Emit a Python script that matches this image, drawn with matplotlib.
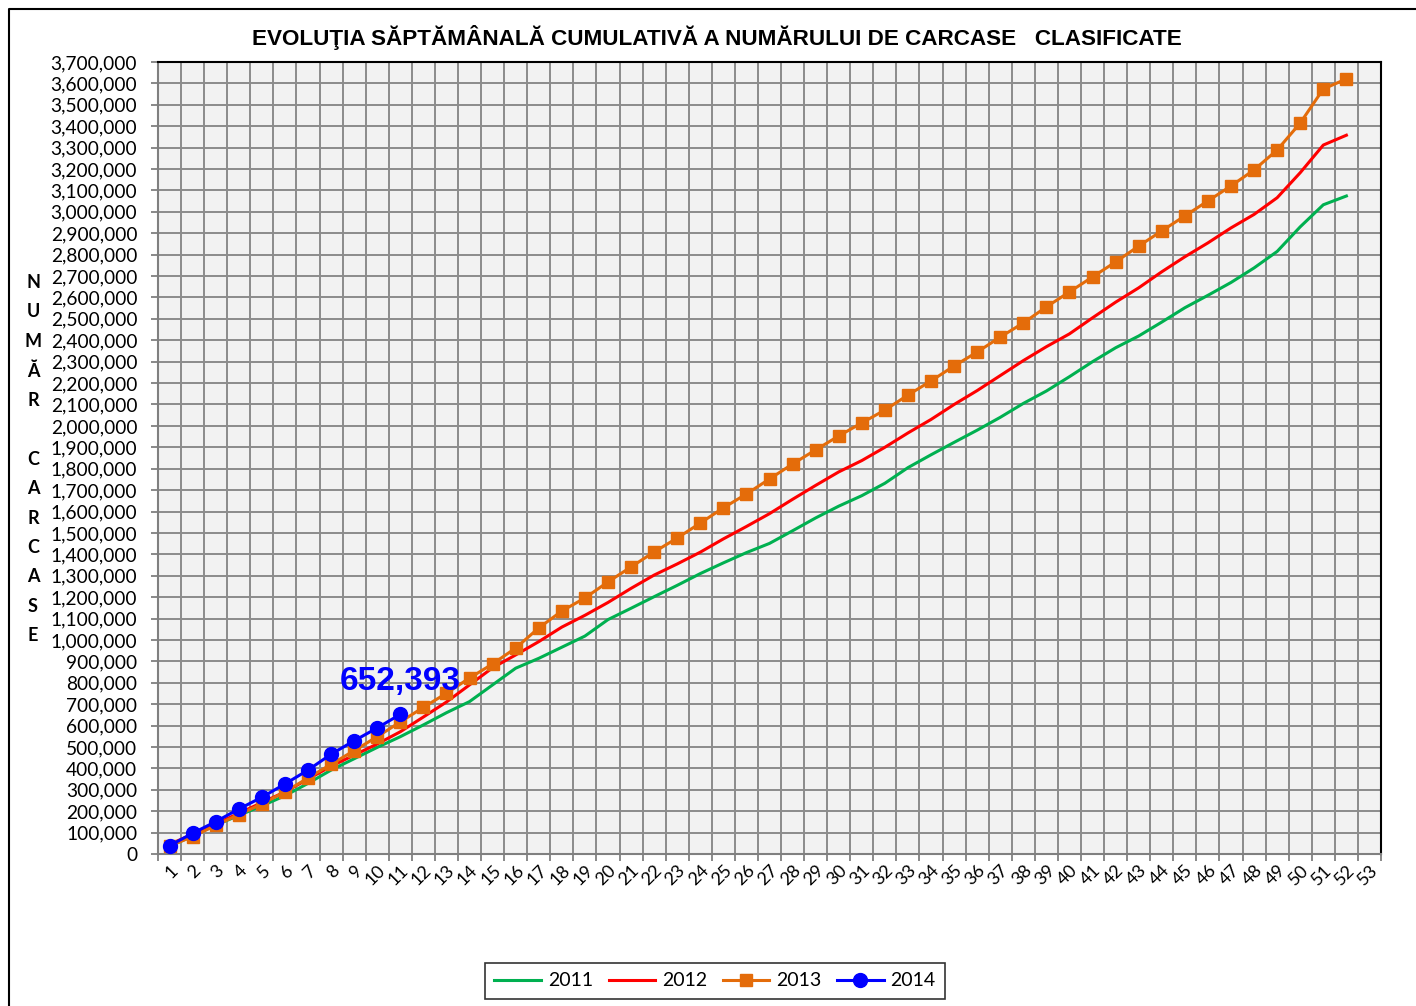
import numpy as np
import matplotlib
matplotlib.use('Agg')
import matplotlib.pyplot as plt
from matplotlib.ticker import FuncFormatter, MultipleLocator
from matplotlib.lines import Line2D
import matplotlib.transforms as mtransforms

# weekly cumulative number of classified carcasses
weeks = list(range(1, 53))
labels_x = [str(i) for i in range(1, 54)]

y2011 = [35e3, 85e3, 135e3, 180e3, 225e3, 272e3, 330e3, 392e3, 445e3, 498e3,
         548e3, 603e3, 660e3, 712e3, 790e3, 868e3, 914e3, 966e3, 1018e3, 1095e3,
         1148e3, 1202e3, 1255e3, 1310e3, 1360e3, 1408e3, 1451e3, 1510e3, 1570e3, 1625e3,
         1674e3, 1732e3, 1805e3, 1865e3, 1923e3, 1980e3, 2040e3, 2105e3, 2163e3, 2230e3,
         2300e3, 2365e3, 2420e3, 2485e3, 2552e3, 2610e3, 2670e3, 2738e3, 2815e3, 2930e3,
         3033e3, 3074e3]
y2012 = [45e3, 92e3, 140e3, 190e3, 240e3, 290e3, 350e3, 410e3, 462e3, 514e3,
         571e3, 640e3, 710e3, 790e3, 870e3, 930e3, 992e3, 1060e3, 1115e3, 1175e3,
         1241e3, 1303e3, 1355e3, 1410e3, 1472e3, 1530e3, 1590e3, 1657e3, 1722e3, 1785e3,
         1838e3, 1900e3, 1967e3, 2030e3, 2100e3, 2165e3, 2235e3, 2305e3, 2370e3, 2430e3,
         2505e3, 2578e3, 2645e3, 2720e3, 2790e3, 2855e3, 2925e3, 2988e3, 3066e3, 3183e3,
         3312e3, 3358e3]
y2013 = [38e3, 81e3, 134e3, 184e3, 234e3, 290e3, 355e3, 419e3, 483e3, 548e3,
         617e3, 685e3, 751e3, 822e3, 888e3, 962e3, 1056e3, 1135e3, 1196e3, 1271e3,
         1341e3, 1411e3, 1476e3, 1546e3, 1617e3, 1682e3, 1752e3, 1822e3, 1888e3, 1953e3,
         2014e3, 2074e3, 2144e3, 2210e3, 2280e3, 2345e3, 2415e3, 2481e3, 2556e3, 2626e3,
         2696e3, 2766e3, 2840e3, 2911e3, 2981e3, 3051e3, 3121e3, 3196e3, 3289e3, 3415e3,
         3574e3, 3621e3]
y2014 = [39e3, 97e3, 151e3, 210e3, 265e3, 327e3, 392e3, 466e3, 529e3, 589e3, 652393]

title = "EVOLUŢIA SĂPTĂMÂNALĂ CUMULATIVĂ A NUMĂRULUI DE CARCASE   CLASIFICATE"
ylabel_letters = "N\nU\nM\nĂ\nR\n\nC\nA\nR\nC\nA\nS\nE"

plt.rcParams['font.family'] = ['Lato', 'DejaVu Sans']

fig = plt.figure(figsize=(14.16, 10.06), dpi=100)
ax = fig.add_axes([158/1416, 1-854/1006, (1381-158)/1416, (854-62)/1006])
ax.set_facecolor('#F2F2F2')

ax.plot(weeks, y2011, color='#00B050', lw=2.2, label='2011', zorder=3)
ax.plot(weeks, y2012, color='#FF0000', lw=2.2, label='2012', zorder=4)
ax.plot(weeks, y2013, color='#E46C0A', lw=2.2, marker='s', ms=9, label='2013', zorder=5)
ax.plot(weeks[:len(y2014)], y2014, color='#0000FF', lw=2.2, marker='o', ms=10,
        label='2014', zorder=6)

ax.annotate(f"{y2014[-1]:,.0f}", (len(y2014), y2014[-1]), xytext=(0, 24),
            textcoords='offset points', ha='center', va='center',
            color='#0000FF', fontsize=24, fontweight='bold',
            family='Liberation Sans', zorder=7)

ax.set_xlim(0.5, 53.5)
ax.set_ylim(0, 3700000)
ax.yaxis.set_major_locator(MultipleLocator(100000))
ax.yaxis.set_major_formatter(FuncFormatter(lambda v, p: f"{v:,.0f}"))
ax.set_xticks(range(1, 54))
ax.set_xticks(np.arange(0.5, 54, 1.0), minor=True)
ax.set_xticklabels(labels_x, rotation=45, ha='right', va='top', rotation_mode='anchor')
offset = mtransforms.ScaledTranslation(6/72, -4/72, fig.dpi_scale_trans)
for lab in ax.get_xticklabels():
    lab.set_transform(lab.get_transform() + offset)

ax.tick_params(axis='x', which='major', length=0, labelsize=13, pad=6)
ax.tick_params(axis='x', which='minor', length=5, color='#808080', width=1.3)
ax.tick_params(axis='y', length=5, color='#808080', width=1.3, labelsize=13.8, pad=10)

ax.grid(True, which='major', axis='y', color='#8C8C8C', lw=1.4)
ax.grid(True, which='minor', axis='x', color='#8C8C8C', lw=1.4)
ax.set_axisbelow(True)

for s in ['top', 'right']:
    ax.spines[s].set_color('black')
    ax.spines[s].set_linewidth(1.5)
for s in ['left', 'bottom']:
    ax.spines[s].set_color('#808080')
    ax.spines[s].set_linewidth(1.5)

fig.text(0.5066, 1-37/1006, title, ha='center', va='center',
         fontsize=16.2, fontweight='bold', family='Liberation Sans')
fig.text(33/1416, 1-459/1006, ylabel_letters, ha='center', va='center',
         fontsize=13, fontweight='bold', linespacing=1.88)

leg = fig.legend(loc='center', bbox_to_anchor=(715/1416, 1-981/1006), ncol=4,
                 fontsize=14, frameon=True, fancybox=False, edgecolor='black',
                 handlelength=2.4, columnspacing=0.8, borderpad=0.5, handletextpad=0.35)
leg.get_frame().set_linewidth(1.2)

# outer chart frame (left and top edges visible)
fig.add_artist(Line2D([8.5/1416, 8.5/1416, 1.01], [-0.01, 1-8.5/1006, 1-8.5/1006],
                      transform=fig.transFigure, color='black', lw=1.5))

fig.savefig('out.png', dpi=100)
